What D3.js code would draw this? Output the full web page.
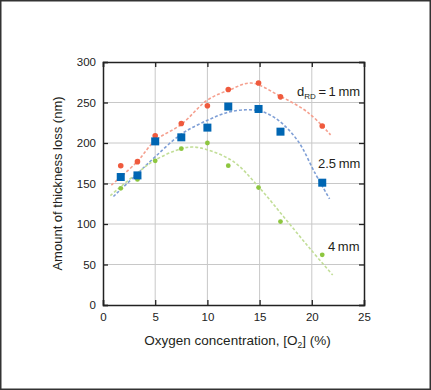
<!DOCTYPE html>
<html><head><meta charset="utf-8">
<script src="https://cdn.jsdelivr.net/npm/d3@7"></script>
<style>
html,body{margin:0;padding:0;background:#fff;}
svg{display:block;font-family:"Liberation Sans",Arial,Helvetica,sans-serif;}
</style></head>
<body>
<svg id="c" width="431" height="390"></svg>
<script>
// ---- data ----
const xTicks = [0, 5, 10, 15, 20, 25];
const yTicks = [0, 50, 100, 150, 200, 250, 300];
const oxygen = [1.7, 3.3, 5, 7.5, 10, 12, 14.9, 17, 21];
const loss1mm = [172, 177, 209, 224, 246, 266, 274, 257, 221];
const loss25mm = [158, 160, 202, 207, 219, 245, 242, 214, 151];
const loss4mm = [144, 155, 178, 193, 200, 172, 145, 103, 62];
// fitted trend lines
const fit1mmX = [0.8, 3.2, 5, 7.5, 10, 12.2, 14.2, 16.8, 19.7, 21.8];
const fit1mmY = [148, 176, 203, 223, 253, 266, 274, 259, 237, 210];
const fit25mmX = [1, 3.2, 5, 7.5, 10, 12, 13.7, 15.2, 16.8, 18.7, 20.3, 21.7];
const fit25mmY = [134, 161, 183, 211, 228, 238, 241, 239, 228, 202, 163, 131];
const fit4mmX = [0.7, 3.2, 5, 7.5, 8.6, 9.9, 12.5, 14.9, 17.3, 19.8, 22];
const fit4mmY = [135, 162, 179, 193, 195, 192, 177, 146, 109, 70, 37];
const labels = ["1", "2.5mm", "4mm"];

const svg = d3.select("#c");
const W = 431, H = 390;
const m = {l: 103, r: 364, t: 62, b: 305};

// outer frame
svg.append("rect").attr("x", 0.75).attr("y", 0.75).attr("width", W - 1.5).attr("height", H - 1.5)
  .attr("fill", "#fff").attr("stroke", "#333").attr("stroke-width", 1.5);

const x = d3.scaleLinear().domain([0, 25]).range([m.l, m.r]);
const y = d3.scaleLinear().domain([0, 300]).range([m.b, m.t]);

// grid
const g = svg.append("g");
g.selectAll(".gx").data(xTicks.slice(1, -1)).join("line")
  .attr("x1", d => x(d)).attr("x2", d => x(d)).attr("y1", m.t).attr("y2", m.b)
  .attr("stroke", "#c8c8c8").attr("stroke-width", 1);
g.selectAll(".gy").data(yTicks.slice(1, -1)).join("line")
  .attr("y1", d => y(d)).attr("y2", d => y(d)).attr("x1", m.l).attr("x2", m.r)
  .attr("stroke", "#c8c8c8").attr("stroke-width", 1);

// curves
const line = d3.line().x(d => x(d[0])).y(d => y(d[1])).curve(d3.curveCatmullRom.alpha(0.5));
const fits = [
  {xs: fit1mmX, ys: fit1mmY, c: "#f5a08f"},
  {xs: fit25mmX, ys: fit25mmY, c: "#7f9fd6"},
  {xs: fit4mmX, ys: fit4mmY, c: "#c2de98"}
];
fits.forEach(f => {
  svg.append("path").datum(f.xs.map((v, i) => [v, f.ys[i]]))
    .attr("d", line).attr("fill", "none").attr("stroke", f.c)
    .attr("stroke-width", 1.6).attr("stroke-dasharray", "3,2");
});

// axes (box with inward ticks)
const tk = 5;
const axB = d3.axisBottom(x).tickValues(xTicks).tickSize(-tk).tickPadding(8).tickFormat(d3.format("d"));
const axT = d3.axisTop(x).tickValues(xTicks).tickSize(-tk).tickFormat("");
const axL = d3.axisLeft(y).tickValues(yTicks).tickSize(-tk).tickPadding(7).tickFormat(d3.format("d"));
const axR = d3.axisRight(y).tickValues(yTicks).tickSize(-tk).tickFormat("");
function style(sel) {
  sel.select(".domain").attr("stroke", "#222").attr("stroke-width", 1.5);
  sel.selectAll(".tick line").attr("stroke", "#222").attr("stroke-width", 1.3);
  sel.selectAll(".tick text").attr("fill", "#222").style("font-size", "11.5px")
     .style("font-family", "'Liberation Sans',Arial,sans-serif");
}
svg.append("g").attr("transform", `translate(0,${m.b})`).call(axB).call(style);
svg.append("g").attr("transform", `translate(0,${m.t})`).call(axT).call(style);
svg.append("g").attr("transform", `translate(${m.l},0)`).call(axL).call(style);
svg.append("g").attr("transform", `translate(${m.r},0)`).call(axR).call(style);

// markers
svg.selectAll(".p1").data(oxygen).join("circle")
  .attr("cx", d => x(d)).attr("cy", (d, i) => y(loss1mm[i])).attr("r", 2.8).attr("fill", "#ef5a3d");
svg.selectAll(".p3").data(oxygen).join("circle")
  .attr("cx", d => x(d)).attr("cy", (d, i) => y(loss4mm[i])).attr("r", 2.4).attr("fill", "#8dc63f");
svg.selectAll(".p2").data(oxygen).join("rect")
  .attr("x", d => x(d) - 4).attr("y", (d, i) => y(loss25mm[i]) - 4)
  .attr("width", 8).attr("height", 8).attr("fill", "#0066b3");

// annotations
const a1 = svg.append("text").attr("x", 297).attr("y", 96).attr("fill", "#231f20").style("font-size", "13px");
a1.append("tspan").text("d");
a1.append("tspan").attr("dy", 3).style("font-size", "8px").text("RD");
a1.append("tspan").attr("dy", -3).text("\u2009=\u2009" + labels[0] + "\u2009mm");
svg.append("text").attr("x", 318).attr("y", 168).attr("fill", "#231f20").style("font-size", "13px").text(labels[1].replace("mm", "\u2009mm"));
svg.append("text").attr("x", 328).attr("y", 251).attr("fill", "#231f20").style("font-size", "13px").text(labels[2].replace("mm", "\u2009mm"));

// axis titles
const xt = svg.append("text").attr("x", (m.l + m.r) / 2 + 4).attr("y", 345).attr("text-anchor", "middle")
  .attr("fill", "#231f20").style("font-size", "13.5px");
xt.append("tspan").text("Oxygen concentration, [O");
xt.append("tspan").attr("dy", 3).style("font-size", "8.5px").text("2");
xt.append("tspan").attr("dy", -3).text("] (%)");
svg.append("text").attr("transform", `translate(62,${(m.t + m.b) / 2}) rotate(-90)`)
  .attr("text-anchor", "middle").attr("fill", "#231f20").style("font-size", "13px")
  .text("Amount of thickness loss (nm)");
</script>
</body></html>
